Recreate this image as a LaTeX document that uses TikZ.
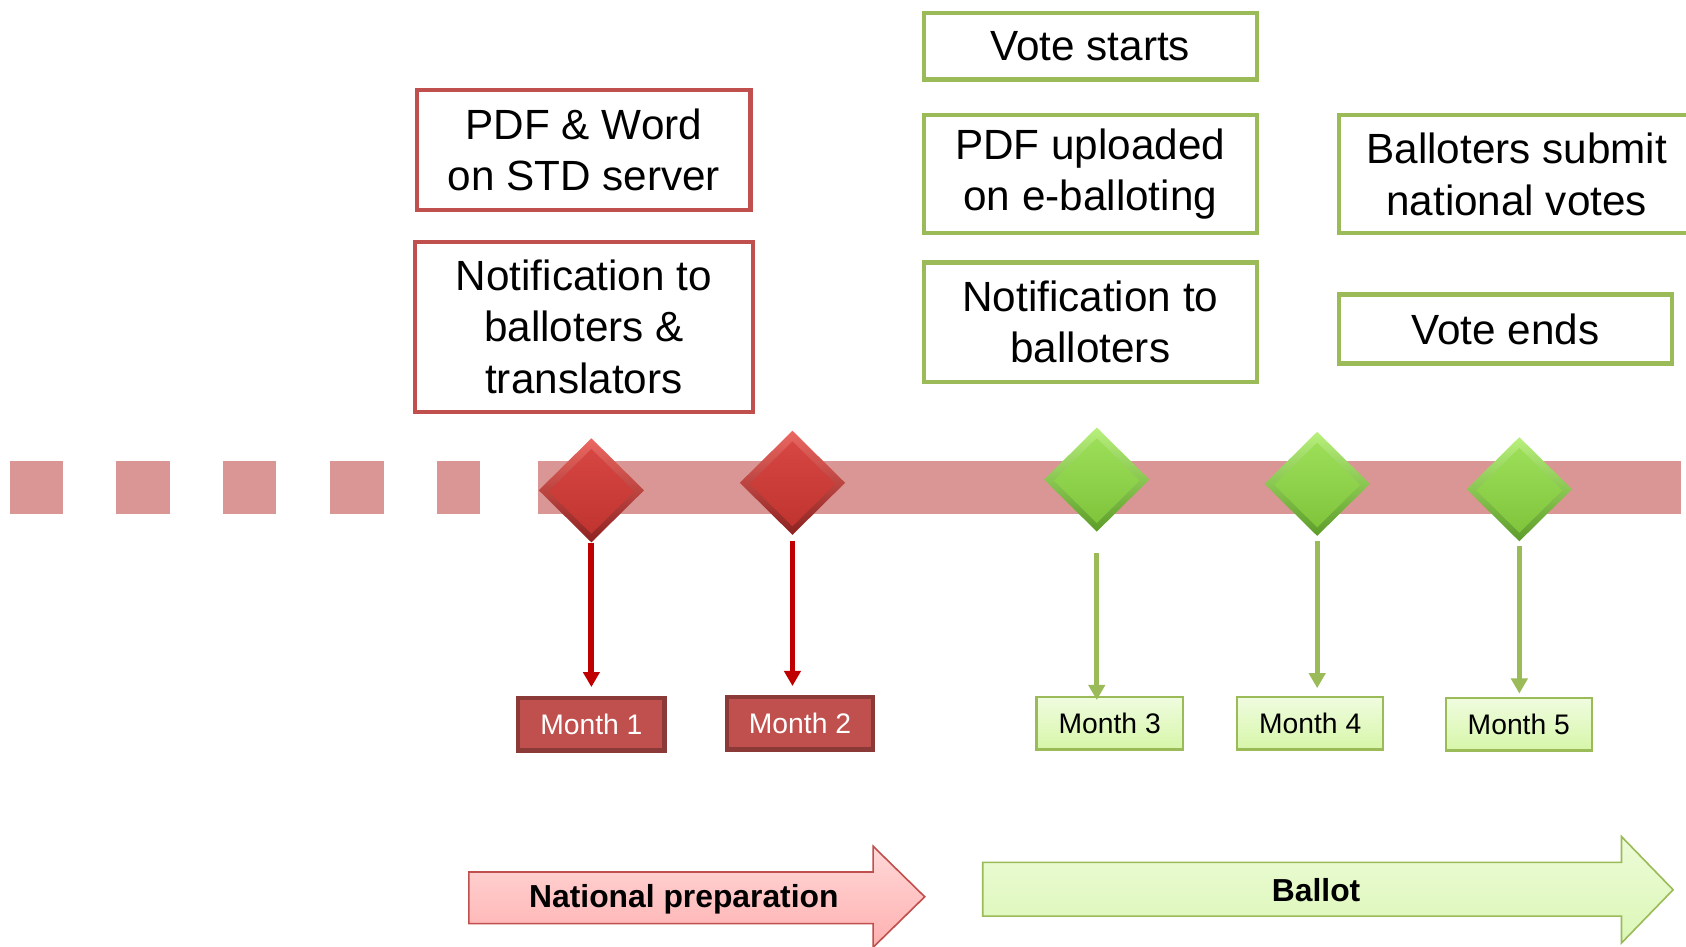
\documentclass[tikz,border=0pt]{standalone}
\usepackage{fontspec}
\setmainfont{Liberation Sans}
\usetikzlibrary{shapes.geometric,arrows.meta}
\definecolor{rb}{HTML}{C0504D}
\definecolor{rbdark}{HTML}{8C3A38}
\definecolor{gb}{HTML}{9BBB59}
\definecolor{band}{HTML}{D99694}
\definecolor{redarr}{HTML}{C00000}
\tikzset{
  bigtext/.style={font=\fontsize{39.3}{48}\selectfont, align=center, inner sep=0pt},
  redbox/.style={bigtext, draw=rb, line width=4pt, fill=white},
  greenbox/.style={bigtext, draw=gb, line width=4pt, fill=white},
  bandpiece/.style={fill=band, draw=none},
  gemouter/.style={diamond, inner sep=0pt, minimum width=98pt, minimum height=97pt, draw=none},
  geminner/.style={diamond, inner sep=0pt, minimum width=80pt, minimum height=79pt, draw=none},
  redgemo/.style={gemouter, top color={rgb,255:red,236;green,104;blue,98}, bottom color={rgb,255:red,140;green,34;blue,32}},
  redgemi/.style={geminner, top color={rgb,255:red,214;green,70;blue,66}, bottom color={rgb,255:red,192;green,52;blue,48}},
  greengemo/.style={gemouter, top color={rgb,255:red,184;green,240;blue,124}, bottom color={rgb,255:red,92;green,156;blue,40}},
  greengemi/.style={geminner, top color={rgb,255:red,156;green,222;blue,88}, bottom color={rgb,255:red,128;green,196;blue,60}},
  redmonth/.style={draw=rbdark, line width=4pt, fill=rb, text=white, inner sep=0pt,
     minimum width=136pt, minimum height=49pt, font=\fontsize{26.3}{30}\selectfont},
  greenmonth/.style={draw=gb, line width=2pt, top color={rgb,255:red,240;green,252;blue,224}, bottom color={rgb,255:red,214;green,246;blue,168},
     inner sep=0pt, minimum width=136pt, minimum height=49pt, font=\fontsize{26.3}{30}\selectfont},
  redlink/.style={draw=redarr, line width=5.5pt, -{Triangle[width=15pt,length=14pt]}},
  greenlink/.style={draw=gb, line width=5pt, -{Triangle[width=15pt,length=14pt]}},
  phaselabel/.style={font=\bfseries\fontsize{29.6}{33}\selectfont, inner sep=0pt},
}
\begin{document}
\begin{tikzpicture}[x=1pt,y=-1pt]
\useasboundingbox (0,0) rectangle (1568,880.7);
\clip (0,0) rectangle (1568,880.7);
\fill[white] (0,0) rectangle (1568,880.7);

% timeline band
\foreach \a/\b in {9/59,108/158,207/257,307/357,406/446}{
  \path[bandpiece] (\a,429) rectangle (\b,478);
}
\path[bandpiece] (500,429) rectangle (1563,478);

% top boxes
\node[redbox, minimum width=310pt, minimum height=111pt] (b1) at (543,139.5) {PDF \& Word\\on STD server};
\node[redbox, minimum width=314pt, minimum height=158pt] (b2) at (543,304) {Notification to\\balloters \&\\translators};
\node[greenbox, minimum width=310pt, minimum height=62pt] (b3) at (1014,43) {Vote starts};
\node[greenbox, minimum width=310pt, minimum height=110pt] (b4) at (1014,162) {PDF uploaded\\on e-balloting};
\node[greenbox, minimum width=310pt, minimum height=111pt] (b5) at (1014,299.5) {Notification to\\balloters};
\node[greenbox, minimum width=331pt, minimum height=110pt] (b6) at (1410.5,162) {Balloters submit\\national votes};
\node[greenbox, minimum width=310pt, minimum height=64pt] (b7) at (1400,306) {Vote ends};

% gems
\node[redgemo] (d1) at (550,456) {};
\node[redgemi] (d1i) at (550,457) {};
\node[redgemo] (d2) at (737,449) {};
\node[redgemi] (d2i) at (737,450) {};
\node[greengemo] (d3) at (1020,446) {};
\node[greengemi] (d3i) at (1020,447) {};
\node[greengemo] (d4) at (1225,450) {};
\node[greengemi] (d4i) at (1225,451) {};
\node[greengemo] (d5) at (1413,455) {};
\node[greengemi] (d5i) at (1413,456) {};

% month boxes
\node[redmonth] (m1) at (550,673.5) {Month 1};
\node[redmonth] (m2) at (744,672.5) {Month 2};
\node[greenmonth] (m3) at (1032,672.5) {Month 3};
\node[greenmonth] (m4) at (1218.5,672.5) {Month 4};
\node[greenmonth] (m5) at (1412.5,673.5) {Month 5};

% connectors
\draw[redlink, shorten >=8pt] (d1.south) -- (d1.south |- m1.north);
\draw[redlink, shorten <=5pt, shorten >=8pt] (d2.south) -- (d2.south |- m2.north);
\draw[greenlink, shorten <=20pt, shorten >=-4pt] (d3.south) -- (d3.south |- m3.north);
\draw[greenlink, shorten <=4.5pt, shorten >=7pt] (d4.south) -- (d4.south |- m4.north);
\draw[greenlink, shorten <=4.5pt, shorten >=3pt] (d5.south) -- (d5.south |- m5.north);

% phase arrows
\path[draw=rb, line width=1.5pt, top color={rgb,255:red,255;green,216;blue,216}, bottom color={rgb,255:red,255;green,176;blue,176}]
  (436,811) -- (812,811) -- (812,787) -- (860,834) -- (812,881) -- (812,859) -- (436,859) -- cycle;
\node[phaselabel] (np) at (636,836) {National preparation};
\path[draw=gb, line width=1.5pt, top color={rgb,255:red,236;green,251;blue,214}, bottom color={rgb,255:red,220;green,247;blue,184}]
  (914,802) -- (1508,802) -- (1508,778) -- (1556,827.5) -- (1508,877) -- (1508,852) -- (914,852) -- cycle;
\node[phaselabel] (bl) at (1224,828) {Ballot};
\end{tikzpicture}
\end{document}
